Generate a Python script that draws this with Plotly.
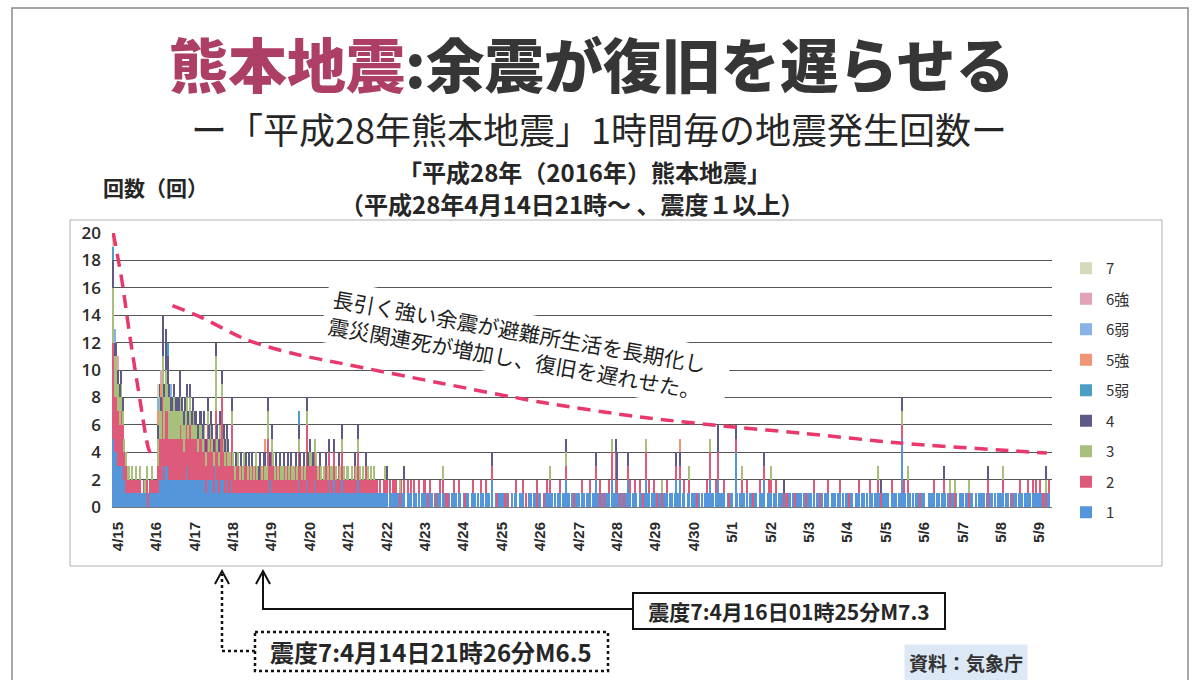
import pandas as pd
import plotly.graph_objects as go

# Hourly earthquake counts (JMA seismic intensity >= 1), from 2016-04-14 21:00.
# One string per day, one digit per hour (spaces only group the hours by six).
START = "2016-04-14 21:00"
ZERO_DAY = "000000 000000 000000 000000"

SHINDO_1 = [
    "544",
    "333321 111111 111111 101111", "112232 332222 222222 232222",
    "222222 212222 132122 212112", "111111 111111 111111 111121",
    "211111 111111 111112 111121", "111211 111111 211211 112111",
    "111111 211111 111111 111111", "101111 110111 011101 101011",
    "110110 101101 100101 110110", "101101 110101 101110 201011",
    "110100 101101 110001 101101", "100111 110101 101121 101011",
    "101101 110112 101101 110212", "110101 121011 101101 211011",
    "101101 110110 121201 101101", "110101 011121 101211 110101",
    "104101 110101 101101 112011", "101101 110101 101011 110101",
    "110101 101011 101110 110101", "101101 110110 101101 111011",
    "110011 101151 101101 011011", "100111 101101 110101 101011",
    "101101 101011 110101 101011", "110110 101101 110111 101111",
    "1101011",
]
SHINDO_2 = [
    "744",
    "434322 111111 111010 111111", "123353 443333 333432 333433",
    "332332 324232 242236 222224", "212212 122121 212112 121132",
    "221212 112121 211212 212142", "222221 211121 211211 212111",
    "111121 211112 111111 101011", "101011 101101 010101 001001",
    "101100 010101 011000 100100", "010000 100001 001000 100100",
    "001010 000100 010100 000020", "001010 100000 100010 000100",
    "001000 010001 020010 010202", "101010 011001 001010 201001",
    "010010 010000 010100 100100", "001000 001020 001200 010010",
    "001000 100100 010001 001001", "100100 001010 000100 000010",
    "000100 010000 100000 010000", "010000 010000 001000 010100",
    "000010 000011 001000 000100", "000000 100000 100010 010000",
    "000010 000000 000020 000000", "010000 010000 100001 001010",
    "1010101",
]
SHINDO_3 = [
    "433",
    "222111 110101 001001 100100", "023233 323223 222222 221212",
    "111111 111111 141111 111111", "110110 110101 011100 101120",
    "111010 110101 011011 010110", "110111 010101 011010 011101",
    "101001 110100 101010 000001", "000000 001000 000000 000000",
    "000000 000001 000000 000000", ZERO_DAY,
    ZERO_DAY, "000000 100000 000010 000000",
    "000000 000000 000000 000100", "000000 000000 000000 100000",
    "000010 000000 000000 000100", "000000 000010 000000 000000",
    "000000 100000 000000 000000", "100000 000000 000000 000000",
    ZERO_DAY, "000000 000000 000000 010000",
    "000000 000010 001000 000000", "000000 000000 000010 010000",
    "000010 000000 000000 000000", "010000 000000 000000 000000",
    "0000100",
]
SHINDO_4 = [
    "211",
    "111100 000000 000000 000000", "011131 321111 111211 111111",
    "111111 111111 111111 111101", "001001 001010 100011 011011",
    "100101 001010 100101 101011", "101000 100010 100100 101000",
    "000010 100001 000000 000000", "100000 000001 000000 000000",
    ZERO_DAY, "000000 000000 000000 100000",
    ZERO_DAY, "000000 000000 000010 000000",
    "000000 000001 000000 000001", "200000 010000 000000 000000",
    "000000 000000 010100 000000", "000000 000000 000200 000000",
    "001000 000000 000000 001000", "000000 001000 000000 000000",
    ZERO_DAY, "000000 000000 000000 000100",
    "000000 000010 000000 000000", "000000 000000 100000 000000",
    "000000 000000 000010 000000", ZERO_DAY,
    "0000100",
]

# Stronger shaking is rare: the hours in which it occurred, and how often.
SHINDO_5L_HOURS = ["2016-04-14 21:00", "2016-04-16 07:00", "2016-04-19 17:00"]
SHINDO_5L_COUNT = [1, 1, 1]
SHINDO_5U_HOURS = ["2016-04-16 01:00", "2016-04-16 03:00", "2016-04-18 20:00", "2016-04-29 15:00"]
SHINDO_5U_COUNT = [1, 1, 1, 1]
SHINDO_6L_HOURS = ["2016-04-14 22:00", "2016-04-16 01:00", "2016-04-16 09:00"]
SHINDO_6L_COUNT = [1, 1, 1]
SHINDO_6U_HOURS = ["2016-04-15 00:00", "2016-04-16 03:00"]
SHINDO_6U_COUNT = [1, 1]
SHINDO_7_HOURS = ["2016-04-14 21:00", "2016-04-16 01:00"]
SHINDO_7_COUNT = [1, 1]

# Hand-drawn decay guides
GUIDE_FORESHOCK_T = ["2016-04-14 21:00", "2016-04-15 02:30", "2016-04-15 07:30",
                     "2016-04-15 13:45", "2016-04-15 18:45", "2016-04-15 22:00"]
GUIDE_FORESHOCK_V = [20.0, 16.5, 12.4, 7.8, 4.4, 3.4]
GUIDE_MAIN_T = ["2016-04-16 10:00", "2016-04-17 03:00", "2016-04-18 08:30",
                "2016-04-19 13:30", "2016-04-20 18:45", "2016-04-23 09:15",
                "2016-04-25 23:45", "2016-04-28 14:15", "2016-05-01 00:30",
                "2016-05-02 18:15", "2016-05-05 08:45", "2016-05-07 23:15",
                "2016-05-09 04:30"]
GUIDE_MAIN_V = [14.7, 13.9, 12.2, 11.2, 10.5, 9.05, 7.66, 6.57, 5.84, 5.4, 4.67, 4.16, 3.94]

Y_TICKS = list(range(0, 21, 2))


def unpack(days):
    return [int(c) for d in days for c in d.replace(" ", "")]


s1, s2, s3, s4 = (unpack(d) for d in (SHINDO_1, SHINDO_2, SHINDO_3, SHINDO_4))
hours = pd.date_range(START, periods=len(s1), freq="h")

W, H = 1198, 680
L, R, T, B = 112, 1052, 233, 507      # plot area in pixels


def px(x):
    return (x - L) / (R - L)


def py(y):
    return (B - y) / (B - T)


BAR_W = 3600000 * 0.7
series = [
    ("1", hours, s1, "#5596da"),
    ("2", hours, s2, "#de5a7a"),
    ("3", hours, s3, "#a9c07c"),
    ("4", hours, s4, "#5e5a86"),
    ("5弱", SHINDO_5L_HOURS, SHINDO_5L_COUNT, "#4d9ec4"),
    ("5強", SHINDO_5U_HOURS, SHINDO_5U_COUNT, "#ee9676"),
    ("6弱", SHINDO_6L_HOURS, SHINDO_6L_COUNT, "#89b2e6"),
    ("6強", SHINDO_6U_HOURS, SHINDO_6U_COUNT, "#e2a2b8"),
    ("7", SHINDO_7_HOURS, SHINDO_7_COUNT, "#d3dbbb"),
]

fig = go.Figure()
for rank, (name, xs, ys, col) in enumerate(series):
    fig.add_trace(go.Bar(
        x=xs, y=ys, name=name, legendgroup=name, legendrank=100 - rank, width=BAR_W,
        marker=dict(color=col, line=dict(width=0)),
    ))

for t, v in ((GUIDE_FORESHOCK_T, GUIDE_FORESHOCK_V), (GUIDE_MAIN_T, GUIDE_MAIN_V)):
    fig.add_trace(go.Scatter(
        x=t, y=v, mode="lines", showlegend=False, hoverinfo="skip",
        line=dict(color="#e8386c", width=3.5, dash="13px,8px", shape="spline", smoothing=0.8),
    ))

JP = "Noto Sans CJK JP"
ink = "#262626"

annotations = [
    dict(x=px(592), y=py(62),
         text="<span style='color:#ad3f66'>熊本地震</span>:余震が復旧を遅らせる",
         font=dict(family=JP, size=59, color="#363636", weight=900)),
    dict(x=px(599), y=py(128), text="ー「平成28年熊本地震」1時間毎の地震発生回数ー",
         font=dict(family=JP, size=36, color=ink)),
    dict(x=px(584), y=py(171), text="<b>「平成28年（2016年）熊本地震」</b>",
         font=dict(family=JP, size=24, color=ink)),
    dict(x=px(572), y=py(203), text="<b>（平成28年4月14日21時～ 、震度１以上）</b>",
         font=dict(family=JP, size=24, color=ink)),
    dict(x=px(155), y=py(187), text="<b>回数（回）</b>",
         font=dict(family=JP, size=21, color=ink)),
    dict(x=px(526), y=py(346), textangle=10, align="left",
         text="長引く強い余震が避難所生活を長期化し<br>震災関連死が増加し、復旧を遅れせた。",
         font=dict(family=JP, size=21, color="#1e1e1e"),
         bgcolor="white", width=396, height=50, borderpad=6),
    dict(x=px(789), y=py(611), text="<b>震度7:4月16日01時25分M7.3</b>",
         font=dict(family=JP, size=21, color=ink),
         bordercolor="#111111", borderwidth=2, borderpad=2, width=306, height=30,
         bgcolor="white"),
    dict(x=px(431), y=py(651), text="<b>震度7:4月14日21時26分M6.5</b>",
         font=dict(family=JP, size=24, color=ink)),
    dict(x=px(966), y=py(662), text="<b>資料：気象庁</b>",
         font=dict(family=JP, size=19, color="#333333"),
         bgcolor="#dde8f6", borderpad=4),
]
for a in annotations:
    a.update(xref="paper", yref="paper", showarrow=False, xanchor="center", yanchor="middle")


def path(points):
    return "M " + " L ".join(f"{px(x):.5f},{py(y):.5f}" for x, y in points)


shapes = [
    # slide frame and chart frame
    dict(type="rect", x0=px(12), x1=px(1188), y0=py(8), y1=py(700),
         line=dict(color="#8a8a8a", width=1.5)),
    dict(type="rect", x0=px(70), x1=px(1162), y0=py(220), y1=py(566),
         line=dict(color="#b0b0b0", width=1)),
    # M7.3 pointer
    dict(type="path", path=path([(632, 609), (263, 609), (263, 572)]),
         line=dict(color="#111111", width=2)),
    dict(type="path", path=path([(256, 584), (263, 571), (270, 584)]),
         line=dict(color="#111111", width=2)),
    # M6.5 pointer (dotted)
    dict(type="path", path=path([(255, 651), (222, 651), (222, 574)]),
         line=dict(color="#111111", width=2.5, dash="dot")),
    dict(type="path", path=path([(215, 584), (222, 571), (229, 584)]),
         line=dict(color="#111111", width=2)),
    dict(type="rect", x0=px(255), x1=px(608), y0=py(632), y1=py(671),
         line=dict(color="#111111", width=2.5, dash="dot")),
]
for s in shapes:
    s.update(xref="paper", yref="paper")

fig.update_layout(
    width=W, height=H, autosize=False,
    margin=dict(l=L, r=W - R, t=T, b=H - B, pad=0),
    paper_bgcolor="white", plot_bgcolor="white",
    barmode="stack", bargap=0,
    font=dict(family=JP, color=ink),
    xaxis=dict(
        type="date", range=["2016-04-14 20:15", "2016-05-09 07:45"],
        tick0="2016-04-15", dtick=86400000, tickformat="%-m/%-d", tickangle=-90,
        tickfont=dict(family="Liberation Sans", size=15, color="#2a2a2a", weight="bold"),
        showgrid=False, showline=True, linecolor="#777777", linewidth=1,
        ticks="", ticklabelstandoff=8, fixedrange=True,
    ),
    yaxis=dict(
        range=[0, 20], tickvals=Y_TICKS, showgrid=True, gridcolor="#565656", gridwidth=1.3,
        zeroline=False, showline=False, ticks="", ticklabelstandoff=10,
        tickfont=dict(family="Open Sans", size=17, color="#2a2a2a", weight=600),
        fixedrange=True,
    ),
    legend=dict(
        x=px(1066), y=py(252), xanchor="left", yanchor="top",
        traceorder="grouped", tracegroupgap=8, maxheight=420,
        font=dict(family=JP, size=15, color="#333333"),
        bgcolor="rgba(0,0,0,0)", itemclick=False, itemdoubleclick=False,
    ),
    annotations=annotations,
    shapes=shapes,
    showlegend=True,
)

fig.write_html("out.html")
